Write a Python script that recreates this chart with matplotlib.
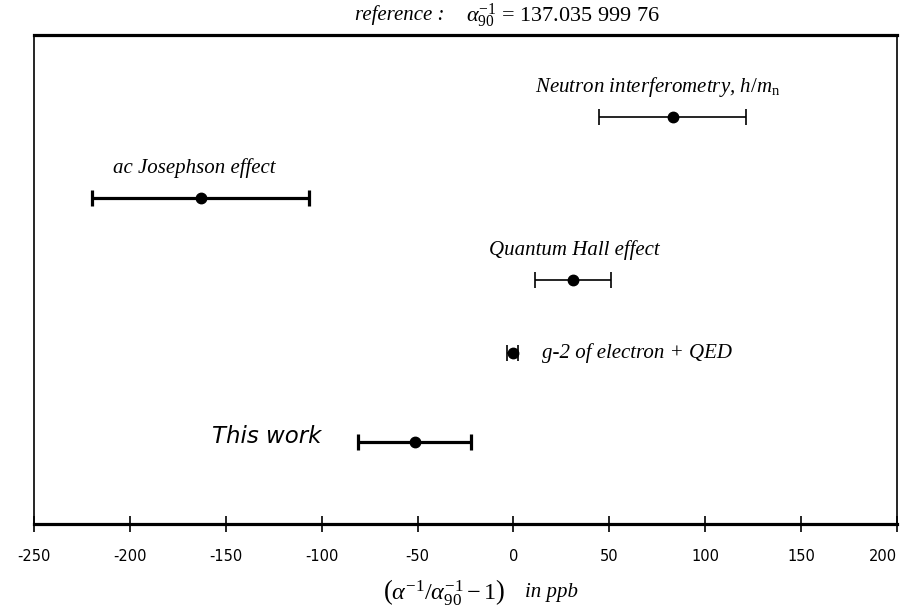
import matplotlib
matplotlib.use("Agg")
import matplotlib.pyplot as plt

plt.rcParams['mathtext.fontset'] = 'custom'
plt.rcParams['mathtext.rm'] = 'Liberation Serif'
plt.rcParams['mathtext.it'] = 'Liberation Serif:italic'

# Data (ppb deviation from reference alpha^-1)
labels = ["Neutron interferometry, $\\mathit{h/m}_{\\mathrm{n}}$", "ac Josephson effect",
          "Quantum Hall effect", "g-2 of electron + QED", "This work"]
values = [83.0, -163.0, 31.0, -0.5, -51.5]
errors = [38.5, 56.5, 20.0, 3.0, 29.5]
rows = [5.0, 4.0, 3.0, 2.1, 1.0]
thick = [False, True, False, False, True]
xticks = [-250, -200, -150, -100, -50, 0, 50, 100, 150, 200]

fig = plt.figure(figsize=(9.04, 6.15), dpi=100)
ax = fig.add_axes([0.0376, 0.148, 0.9547, 0.795])
ax.set_xlim(-250, 200)
ax.set_ylim(0, 6)

for v, e, r, t in zip(values, errors, rows, thick):
    lw = 2.3 if t else 1.2
    ax.errorbar(v, r, xerr=e, fmt='o', color='black', ms=7.5, lw=lw,
                capsize=6, capthick=lw, mec='black', mfc='black')

serif = dict(family='Liberation Serif', style='italic', fontsize=15)
ax.text(11, rows[0] + 0.36, labels[0], ha='left', va='center', **serif)
ax.text(-209, rows[1] + 0.37, labels[1], ha='left', va='center', **serif)
ax.text(-13, rows[2] + 0.36, labels[2], ha='left', va='center', **serif)
ax.text(15, rows[3], labels[3], ha='left', va='center', **serif)
ax.text(-157, rows[4] + 0.07, labels[4], ha='left', va='center',
        family='DejaVu Sans', style='italic', fontsize=16.5)

ax.set_xticks(xticks)
ax.set_xticklabels([str(t) for t in xticks], fontsize=10.5)
ax.get_xticklabels()[-1].set_horizontalalignment('right')
ax.get_xticklabels()[-1].set_x(200)
ax.tick_params(axis='x', direction='inout', length=12, width=1.2, pad=12)
ax.set_yticks([])

for s in ['top', 'bottom']:
    ax.spines[s].set_linewidth(2.3)
for s in ['left', 'right']:
    ax.spines[s].set_linewidth(1.2)

fig.text(0.393, 0.975, "reference :", family='Liberation Serif', style='italic',
         fontsize=15, ha='left', va='center')
fig.text(0.515, 0.975, "$\\mathit{\\alpha}_{90}^{-1}$ = 137.035 999 76", family='Liberation Serif',
         fontsize=16, ha='left', va='center')

fig.text(0.424, 0.037, "$\\left(\\mathit{\\alpha}^{-1}/\\mathit{\\alpha}_{90}^{-1} - 1\\right)$", fontsize=17.5,
         ha='left', va='center', family='Liberation Serif')
fig.text(0.581, 0.037, "in ppb", family='Liberation Serif', style='italic',
         fontsize=15, ha='left', va='center')

fig.savefig("out.png", dpi=100)
